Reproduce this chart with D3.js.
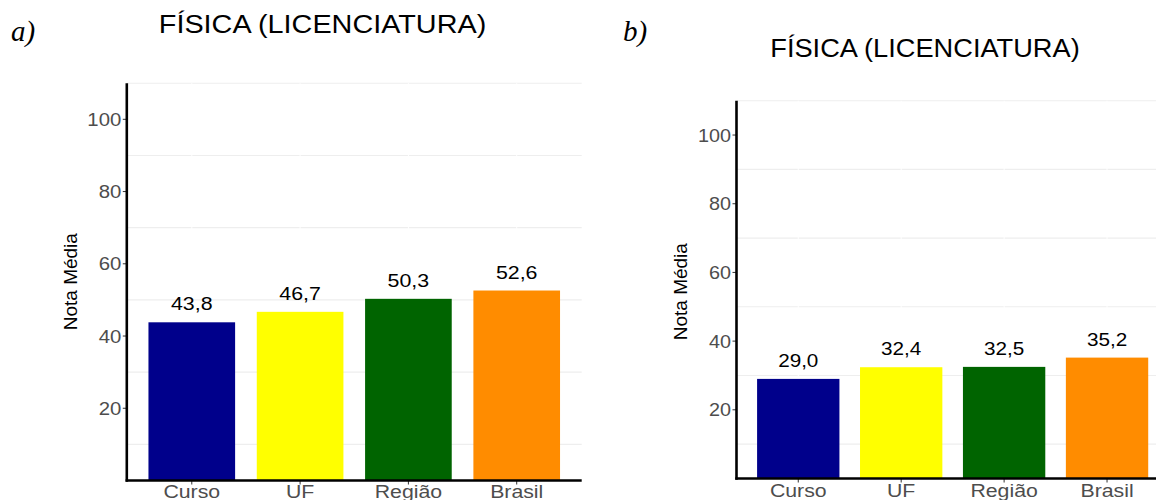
<!DOCTYPE html>
<html>
<head>
<meta charset="utf-8">
<script src="https://cdn.jsdelivr.net/npm/d3@7"></script>
<style>
  body { margin: 0; background: #fff; }
</style>
</head>
<body>
<script>
const width = 1156;
const height = 500;

// dados
const categorias = ["Curso", "UF", "Região", "Brasil"];
const notasA = [43.8, 46.7, 50.3, 52.6];
const notasB = [29.0, 32.4, 32.5, 35.2];
const cores = ["#00008B", "#FFFF00", "#006400", "#FF8C00"];
const yTicks = [20, 40, 60, 80, 100];
const gradeY = [10, 30, 50, 70, 90, 110];
const letras = ["a)", "b)"];
const titulo = "FÍSICA (LICENCIATURA)";
const eixoY = "Nota Média";
const fmt = d3.format(".1f");

const sans = "'Liberation Sans', Arial, sans-serif";
const serif = "'Liberation Serif', 'Times New Roman', serif";

// layout de cada painel
var paineis = [
  {notas: notasA, letra: letras[0], left: 126.8, right: 581.7, top: 83.2, bottom: 480.5,
   tituloX: 322.5, tituloY: 33.3, tituloSize: 25.5, tituloSx: 1.13, letraX: 11,
   eixoX: 77, eixoYc: 281.7, valorSize: 18.6, tickSize: 18.5, rotuloY: 498.3},
  {notas: notasB, letra: letras[1], left: 736.5, right: 1168.8, top: 100.7, bottom: 478.5,
   tituloX: 925, tituloY: 56.7, tituloSize: 26, tituloSx: 1.047, letraX: 623,
   eixoX: 687, eixoYc: 291.7, valorSize: 18, tickSize: 18, rotuloY: 496.7}
];

var svg = d3.select("body").append("svg")
    .attr("width", width)
    .attr("height", height);

svg.append("rect").attr("width", width).attr("height", height).attr("fill", "#fff");

// texto horizontal levemente esticado, como na figura original
function texto(g, str, x, y, size, sx, anchor, cor) {
  return g.append("text")
      .attr("transform", `translate(${x},${y}) scale(${sx},1)`)
      .attr("text-anchor", anchor)
      .style("font-family", sans)
      .attr("font-size", size)
      .attr("fill", cor)
      .text(str);
}

paineis.forEach(function(p) {
  var g = svg.append("g");

  var x = d3.scaleBand()
      .domain(categorias)
      .range([p.left, p.right])
      .paddingInner(0.2)
      .paddingOuter(0.2);

  var y = d3.scaleLinear()
      .domain([0, 110])
      .range([p.bottom, p.top]);

  var right = Math.min(p.right, width);

  // grade (so as linhas menores aparecem)
  g.selectAll(".grade")
      .data(gradeY)
    .enter().append("line")
      .attr("x1", p.left).attr("x2", right)
      .attr("y1", d => y(d)).attr("y2", d => y(d))
      .attr("stroke", "#eeeeee")
      .attr("stroke-width", 1.1);

  g.selectAll(".gradev")
      .data(categorias)
    .enter().append("line")
      .attr("x1", d => x(d) + x.bandwidth() / 2).attr("x2", d => x(d) + x.bandwidth() / 2)
      .attr("y1", p.top).attr("y2", p.bottom)
      .attr("stroke", "#fff")
      .attr("stroke-width", 1);

  // barras
  g.selectAll(".barra")
      .data(p.notas)
    .enter().append("rect")
      .attr("x", (d, i) => x(categorias[i]))
      .attr("y", d => y(d))
      .attr("width", x.bandwidth())
      .attr("height", d => y(0) - y(d))
      .attr("fill", (d, i) => cores[i]);

  // valores sobre as barras
  p.notas.forEach(function(d, i) {
    texto(g, fmt(d).replace(".", ","), x(categorias[i]) + x.bandwidth() / 2, y(d) - 12,
          p.valorSize, 1.15, "middle", "#000");
  });

  // eixo y
  g.selectAll(".tick")
      .data(yTicks)
    .enter().append("line")
      .attr("x1", p.left - 4).attr("x2", p.left)
      .attr("y1", d => y(d)).attr("y2", d => y(d))
      .attr("stroke", "#333")
      .attr("stroke-width", 1);

  yTicks.forEach(function(t) {
    texto(g, t, p.left - 5.5, y(t) + p.tickSize * 0.36, p.tickSize, 1.1, "end", "#4d4d4d");
  });

  // eixo x
  g.selectAll(".tickx")
      .data(categorias)
    .enter().append("line")
      .attr("x1", d => x(d) + x.bandwidth() / 2).attr("x2", d => x(d) + x.bandwidth() / 2)
      .attr("y1", p.bottom).attr("y2", p.bottom + 4)
      .attr("stroke", "#333")
      .attr("stroke-width", 1);

  categorias.forEach(function(c) {
    texto(g, c, x(c) + x.bandwidth() / 2, p.rotuloY, 18.5, 1.15, "middle", "#4d4d4d");
  });

  g.append("line")
      .attr("x1", p.left).attr("x2", p.left)
      .attr("y1", p.top).attr("y2", p.bottom + 1.2)
      .attr("stroke", "#000")
      .attr("stroke-width", 2.6);

  g.append("line")
      .attr("x1", p.left - 1.2).attr("x2", right)
      .attr("y1", p.bottom).attr("y2", p.bottom)
      .attr("stroke", "#000")
      .attr("stroke-width", 2.6);

  // titulo do eixo y
  g.append("text")
      .attr("transform", `translate(${p.eixoX},${p.eixoYc}) rotate(-90)`)
      .attr("text-anchor", "middle")
      .style("font-family", sans)
      .attr("font-size", 17.5)
      .attr("textLength", 97)
      .attr("lengthAdjust", "spacingAndGlyphs")
      .attr("fill", "#000")
      .text(eixoY);

  // titulo do grafico
  texto(g, titulo, p.tituloX, p.tituloY, p.tituloSize, p.tituloSx, "middle", "#000");

  // letra do painel
  g.append("text")
      .attr("x", p.letraX)
      .attr("y", 41)
      .style("font-family", serif)
      .style("font-style", "italic")
      .attr("font-size", 29)
      .attr("fill", "#000")
      .text(p.letra);
});
</script>
</body>
</html>
